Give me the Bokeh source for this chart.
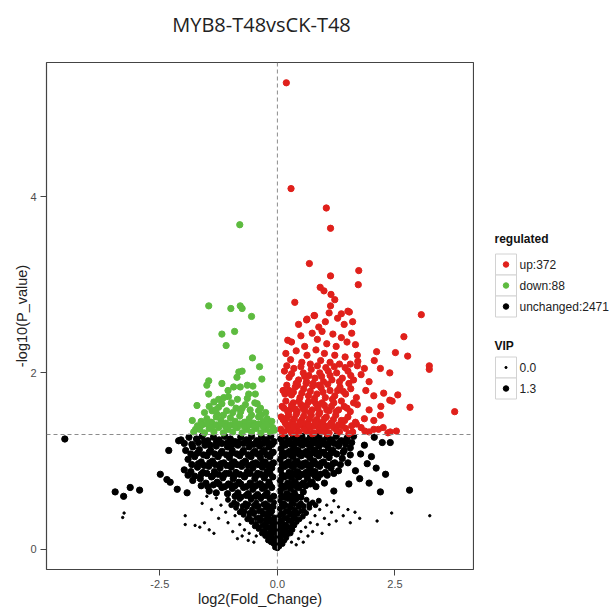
from bokeh.plotting import figure
from bokeh.models import Range1d, FixedTicker, Span
from bokeh.layouts import row, column
from bokeh.embed import file_html
from bokeh.resources import INLINE
from bokeh.core.properties import value

TITLE = "MYB8-T48vsCK-T48"
X_LABEL = "log2(Fold_Change)"
Y_LABEL = "-log10(P_value)"
X_TICKS = [-2.5, 0.0, 2.5]
X_TICK_LABELS = ["-2.5", "0.0", "2.5"]
Y_TICKS = [0, 2, 4]
Y_TICK_LABELS = ["0", "2", "4"]
P_CUTOFF = 1.301   # -log10(0.05)
FC_LINE = 0.0

REG_NAMES = ["up:372", "down:88", "unchanged:2471"]
VIP_NAMES = ["0.0", "1.3"]

# ---- up-regulated (red) ----
up_x = [0.19, 0.29, 1.04, 1.13, 0.68, 1.73, 1.13, 1.72, 0.91, 0.99, 1.14, 1.22, 0.37, 1.13, 3.06,
        1.53, 1.36, 0.79, 0.63, 2.69, 0.22, 3.23, 3.23, 3.77, 2.77, 2.51, 2.11, 2.06, 2.19, 2.39,
        2.56, 2.82, 2.26, 2.39, 2.44, 2.19, 2.53, 1.71, 2.05, 2.25, 2.40,
        0.45, 0.62, 0.78, 0.88, 1.02, 1.10, 1.28, 1.42, 1.50, 1.60,
        0.30, 0.50, 0.58, 0.74, 0.85, 0.95, 1.05, 1.18, 1.25, 1.36, 1.48, 1.58, 1.66,
        0.18, 0.28, 0.40, 0.52, 0.63, 0.70, 0.82, 0.92, 1.00, 1.12, 1.22, 1.32, 1.44, 1.55, 1.70, 1.85,
        0.15, 0.25, 0.35, 0.45, 0.55, 0.62, 0.72, 0.80, 0.90, 0.98, 1.08, 1.16, 1.26, 1.38, 1.50, 1.62, 1.78, 1.95,
        0.12, 0.20, 0.30, 0.38, 0.48, 0.56, 0.66, 0.75, 0.84, 0.93, 1.02, 1.12, 1.22, 1.33, 1.45, 1.56, 1.68, 1.88, 2.05,
        0.10, 0.18, 0.26, 0.34, 0.42, 0.50, 0.58, 0.66, 0.74, 0.82, 0.90, 1.00, 1.10, 1.20, 1.30, 1.42, 1.55, 1.70, 1.95, 2.20,
        0.08, 0.16, 0.24, 0.32, 0.40, 0.48, 0.56, 0.64, 0.72, 0.80, 0.88, 0.96, 1.04, 1.14, 1.24, 1.36, 1.50, 1.66, 1.85, 2.05,
        0.07, 0.14, 0.22, 0.30, 0.38, 0.46, 0.54, 0.62, 0.70, 0.78, 0.86, 0.94, 1.02, 1.10, 1.20, 1.32, 1.45, 1.60, 1.78, 1.95, 2.15, 2.35,
        0.12, 0.20, 0.28, 0.36, 0.44, 0.52, 0.60, 0.68, 0.76, 0.84, 0.92, 1.00, 1.09, 1.19, 1.30, 1.43, 1.58,
        0.14, 0.22, 0.30, 0.38, 0.46, 0.54, 0.62, 0.70, 0.78, 0.86, 0.95, 1.05, 1.15, 1.25, 1.36, 1.48, 1.62,
        0.16, 0.25, 0.34, 0.43, 0.52, 0.61, 0.70, 0.79, 0.88, 0.97, 1.07, 1.17, 1.28, 1.40, 1.52,
        0.20, 0.30, 0.40, 0.50, 0.58, 0.67, 0.76, 0.85, 0.94, 1.03, 1.12, 1.21, 1.32, 1.44, 1.56, 1.70,
        0.11, 0.18, 0.26, 0.34, 0.42, 0.50, 0.58, 0.66, 0.74, 0.82, 0.90, 0.98, 1.06, 1.15, 1.26, 1.38, 1.52, 1.68, 1.86]
up_y = [5.29, 4.09, 3.87, 3.64, 3.24, 3.16, 3.10, 3.00, 2.97, 2.93, 2.89, 2.83, 2.80, 2.76, 2.66,
        2.69, 2.67, 2.65, 2.61, 2.41, 2.37, 2.08, 2.04, 1.56, 2.19, 2.23, 2.24, 2.14, 2.05, 2.00,
        1.75, 1.61, 1.77, 1.69, 1.68, 1.52, 1.34, 2.13, 1.36, 1.38, 1.33,
        2.55, 2.60, 2.65, 2.52, 2.58, 2.68, 2.62, 2.55, 2.70, 2.58,
        2.35, 2.42, 2.30, 2.45, 2.38, 2.47, 2.33, 2.44, 2.30, 2.40, 2.35, 2.45, 2.32,
        2.22, 2.15, 2.25, 2.12, 2.20, 2.10, 2.26, 2.14, 2.22, 2.12, 2.20, 2.10, 2.18, 2.10, 2.20, 2.05,
        2.02, 1.95, 2.05, 1.92, 2.00, 1.90, 2.04, 1.94, 2.00, 1.90, 2.02, 1.92, 2.00, 1.94, 2.02, 1.92, 1.98, 1.90,
        1.80, 1.86, 1.75, 1.84, 1.72, 1.82, 1.74, 1.85, 1.76, 1.83, 1.72, 1.80, 1.74, 1.84, 1.76, 1.82, 1.72, 1.80, 1.74,
        1.62, 1.68, 1.58, 1.66, 1.56, 1.64, 1.57, 1.67, 1.58, 1.65, 1.55, 1.63, 1.57, 1.66, 1.58, 1.62, 1.56, 1.64, 1.58, 1.62,
        1.50, 1.44, 1.52, 1.45, 1.53, 1.44, 1.51, 1.43, 1.52, 1.45, 1.53, 1.44, 1.50, 1.43, 1.52, 1.46, 1.50, 1.44, 1.48, 1.46,
        1.36, 1.33, 1.39, 1.32, 1.38, 1.33, 1.40, 1.34, 1.38, 1.32, 1.39, 1.33, 1.37, 1.32, 1.38, 1.33, 1.37, 1.33, 1.38, 1.33, 1.36, 1.32,
        1.47, 1.49, 1.41, 1.48, 1.40, 1.47, 1.41, 1.48, 1.40, 1.47, 1.41, 1.48, 1.40, 1.47, 1.41, 1.46, 1.40,
        1.60, 1.56, 1.63, 1.59, 1.68, 1.60, 1.63, 1.55, 1.68, 1.60, 1.66, 1.58, 1.62, 1.56, 1.68, 1.60, 1.66,
        1.76, 1.80, 1.78, 1.86, 1.77, 1.88, 1.79, 1.71, 1.86, 1.78, 1.87, 1.70, 1.80, 1.79, 1.88,
        2.08, 1.99, 1.88, 2.07, 1.96, 1.97, 1.88, 2.08, 1.96, 2.06, 1.97, 2.07, 1.90, 2.06, 1.97, 2.08,
        1.31, 1.42, 1.35, 1.41, 1.31, 1.43, 1.36, 1.41, 1.31, 1.43, 1.35, 1.41, 1.31, 1.43, 1.35, 1.40, 1.31, 1.42, 1.34]

# ---- down-regulated (green) ----
down_x = [-0.80, -1.46, -0.99, -0.79, -0.75, -0.55, -1.18, -0.91, -1.09, -0.53, -0.38, -0.82, -0.75, -0.86,
          -0.33, -1.46, -1.50, -1.46, -1.18, -0.93, -0.79, -0.64, -0.61, -0.64, -0.47, -1.14, -1.04, -1.71,
          -1.35, -1.25, -1.39, -1.28, -0.43, -0.40, -1.81, -1.74,
          -1.78, -1.65, -1.55, -1.45, -1.35, -1.25, -1.15, -1.05, -0.95, -0.85, -0.75, -0.65, -0.55, -0.45, -0.35, -0.25, -0.15, -0.06,
          -1.62, -1.50, -1.40, -1.30, -1.20, -1.10, -1.00, -0.90, -0.80, -0.70, -0.60, -0.50, -0.40, -0.30, -0.18,
          -1.45, -1.32, -1.18, -1.08, -0.98, -0.88, -0.78, -0.68, -0.58, -0.48, -0.36, -0.25,
          -1.70, -1.60, -1.50, -1.40, -1.30, -1.20, -1.10, -1.00, -0.90, -0.80, -0.70, -0.60, -0.50, -0.40, -0.30, -0.20, -0.10,
          -1.55, -1.15, -0.95, -0.75, -0.55, -0.35, -0.22, -0.12, -1.25, -0.85, -0.52, -1.05]
down_y = [3.68, 2.76, 2.73, 2.76, 2.73, 2.64, 2.44, 2.47, 2.31, 2.17, 2.07, 2.01, 2.02, 1.95,
          1.93, 1.91, 1.86, 1.76, 1.88, 1.84, 1.84, 1.86, 1.76, 1.71, 1.76, 1.72, 1.73, 1.63,
          1.67, 1.61, 1.57, 1.53, 1.65, 1.57, 1.46, 1.36,
          1.33, 1.36, 1.32, 1.37, 1.33, 1.38, 1.32, 1.36, 1.33, 1.38, 1.32, 1.36, 1.33, 1.37, 1.32, 1.36, 1.33, 1.35,
          1.45, 1.48, 1.44, 1.50, 1.46, 1.43, 1.49, 1.45, 1.51, 1.44, 1.48, 1.43, 1.50, 1.45, 1.42,
          1.62, 1.58, 1.65, 1.57, 1.66, 1.60, 1.56, 1.64, 1.58, 1.66, 1.60, 1.55,
          1.40, 1.41, 1.42, 1.38, 1.41, 1.42, 1.39, 1.41, 1.40, 1.42, 1.39, 1.41, 1.40, 1.42, 1.39, 1.41, 1.38,
          1.55, 1.52, 1.55, 1.60, 1.52, 1.52, 1.48, 1.45, 1.70, 1.70, 1.85, 1.80]

# ---- unchanged, high VIP (large black) ----
hi_x = [-2.05, -1.88, -1.72, -1.60, -1.48, -1.36, -1.24, -1.12, -1.00, -0.90, -0.78, -0.66, -0.55, -0.44, -0.34, -0.24, -0.14, -0.07,
        -1.95, -1.80, -1.66, -1.54, -1.42, -1.30, -1.18, -1.06, -0.96, -0.84, -0.72, -0.60, -0.48, -0.38, -0.28, -0.18, -0.09,
        -1.90, -1.76, -1.62, -1.50, -1.38, -1.26, -1.14, -1.02, -0.92, -0.80, -0.68, -0.56, -0.46, -0.36, -0.26, -0.16, -0.08,
        -1.98, -1.84, -1.70, -1.58, -1.46, -1.34, -1.22, -1.10, -0.98, -0.88, -0.76, -0.64, -0.52, -0.42, -0.32, -0.22, -0.12,
        -1.80, -1.64, -1.52, -1.40, -1.28, -1.16, -1.04, -0.94, -0.82, -0.70, -0.58, -0.48, -0.38, -0.28, -0.18, -0.10,
        -1.45, -1.30, -1.18, -1.06, -0.96, -0.84, -0.72, -0.62, -0.52, -0.42, -0.32, -0.22, -0.12,
        -2.10, -2.31, -2.49, -2.35, -2.28, -3.45, -3.27, -3.13, -2.93, -2.13, -1.92, -4.52,
        -1.98, -1.82, -1.68, -1.55, -1.43, -1.30, -1.18, -1.06, -0.95, -0.84, -0.72, -0.61, -0.50, -0.40, -0.30, -0.20, -0.11,
        -1.84, -1.70, -1.57, -1.45, -1.33, -1.20, -1.08, -0.97, -0.86, -0.74, -0.62, -0.52, -0.42, -0.32, -0.22, -0.12,
        -1.82, -1.68, -1.56, -1.44, -1.32, -1.20, -1.08, -0.97, -0.86, -0.74, -0.62, -0.52, -0.41, -0.31, -0.20, -0.11,
        -1.90, -1.76, -1.62, -1.50, -1.38, -1.26, -1.14, -1.02, -0.92, -0.80, -0.68, -0.58, -0.46, -0.36, -0.26, -0.16,
        -1.62, -1.48, -1.36, -1.24, -1.12, -1.00, -0.90, -0.78, -0.66, -0.56, -0.46, -0.36, -0.26, -0.16,
        -0.90, -0.78, -0.66, -0.56, -0.46, -0.36, -0.26, -0.16, -0.08,
        0.07, 0.16, 0.25, 0.34, 0.43, 0.52, 0.61, 0.70, 0.79, 0.88, 0.97, 1.06, 1.15, 1.25, 1.36, 1.48, 1.62,
        0.08, 0.17, 0.26, 0.35, 0.44, 0.53, 0.62, 0.71, 0.80, 0.89, 0.98, 1.08, 1.18, 1.30, 1.42,
        0.06, 0.15, 0.24, 0.33, 0.42, 0.51, 0.60, 0.69, 0.78, 0.88, 0.98, 1.10, 1.22, 1.38,
        0.07, 0.16, 0.25, 0.34, 0.43, 0.52, 0.61, 0.70, 0.80, 0.90, 1.02, 1.14, 1.30,
        0.06, 0.14, 0.22, 0.30, 0.38, 0.46, 0.55, 0.64, 0.74, 0.86, 1.00,
        0.06, 0.13, 0.20, 0.28, 0.36, 0.45, 0.55,
        1.45, 1.55, 1.77, 1.91, 1.66, 1.52, 1.20, 2.40, 2.23, 2.06, 2.30, 2.81, 2.19, 1.85, 2.00, 2.10, 1.75, 1.95,
        0.11, 0.20, 0.29, 0.38, 0.47, 0.56, 0.65, 0.74, 0.83, 0.92, 1.01, 1.11, 1.21, 1.32, 1.45, 1.58,
        0.10, 0.19, 0.28, 0.37, 0.46, 0.55, 0.64, 0.73, 0.83, 0.93, 1.03, 1.14, 1.26, 1.40, 1.55,
        0.10, 0.19, 0.28, 0.37, 0.46, 0.55, 0.64, 0.74, 0.84, 0.94, 1.06, 1.18, 1.34, 1.50,
        0.10, 0.18, 0.26, 0.34, 0.43, 0.52, 0.61, 0.70, 0.80, 0.92, 1.06, 1.20,
        0.09, 0.17, 0.25, 0.33, 0.41, 0.50, 0.60, 0.70, 0.82,
        0.09, 0.16, 0.24, 0.32, 0.40, 0.50]
hi_y = [1.24, 1.27, 1.25, 1.28, 1.23, 1.27, 1.24, 1.28, 1.25, 1.22, 1.27, 1.24, 1.28, 1.23, 1.27, 1.24, 1.28, 1.22,
        1.12, 1.16, 1.13, 1.18, 1.12, 1.17, 1.11, 1.16, 1.12, 1.18, 1.12, 1.16, 1.11, 1.17, 1.12, 1.16, 1.10,
        1.02, 1.05, 0.99, 1.06, 1.00, 1.05, 0.98, 1.04, 0.99, 1.06, 1.00, 1.05, 0.98, 1.04, 0.99, 1.05, 0.98,
        0.90, 0.88, 0.93, 0.87, 0.94, 0.88, 0.92, 0.86, 0.93, 0.87, 0.94, 0.88, 0.92, 0.86, 0.93, 0.88, 0.92,
        0.78, 0.80, 0.75, 0.82, 0.76, 0.81, 0.74, 0.80, 0.76, 0.82, 0.75, 0.80, 0.74, 0.81, 0.76, 0.82,
        0.66, 0.64, 0.70, 0.63, 0.69, 0.64, 0.70, 0.63, 0.68, 0.62, 0.69, 0.64, 0.70,
        1.23, 1.12, 0.85, 0.79, 0.76, 0.65, 0.60, 0.70, 0.67, 0.68, 0.64, 1.25,
        1.20, 1.19, 1.21, 1.22, 1.18, 1.21, 1.20, 1.21, 1.19, 1.21, 1.20, 1.22, 1.19, 1.21, 1.20, 1.21, 1.19,
        1.08, 1.09, 1.07, 1.10, 1.08, 1.09, 1.07, 1.09, 1.08, 1.10, 1.07, 1.09, 1.08, 1.10, 1.07, 1.09,
        0.96, 0.97, 0.95, 0.98, 0.96, 0.97, 0.95, 0.97, 0.96, 0.98, 0.95, 0.97, 0.96, 0.98, 0.95, 0.97,
        0.84, 0.83, 0.85, 0.86, 0.83, 0.85, 0.84, 0.86, 0.83, 0.85, 0.84, 0.86, 0.83, 0.85, 0.84, 0.86,
        0.72, 0.71, 0.73, 0.74, 0.71, 0.73, 0.72, 0.74, 0.71, 0.73, 0.72, 0.74, 0.71, 0.73,
        0.60, 0.59, 0.61, 0.58, 0.60, 0.59, 0.61, 0.58, 0.60,
        1.25, 1.28, 1.23, 1.27, 1.24, 1.28, 1.23, 1.27, 1.24, 1.28, 1.23, 1.27, 1.24, 1.28, 1.23, 1.26, 1.28,
        1.14, 1.18, 1.11, 1.16, 1.12, 1.18, 1.11, 1.16, 1.12, 1.17, 1.10, 1.15, 1.12, 1.17, 1.12,
        1.02, 1.06, 0.99, 1.05, 1.00, 1.06, 0.98, 1.04, 1.00, 1.06, 0.99, 1.04, 0.98, 1.03,
        0.90, 0.94, 0.87, 0.93, 0.88, 0.94, 0.87, 0.92, 0.88, 0.94, 0.87, 0.92, 0.89,
        0.78, 0.82, 0.75, 0.81, 0.76, 0.82, 0.75, 0.80, 0.76, 0.81, 0.75,
        0.66, 0.70, 0.63, 0.69, 0.64, 0.70, 0.65,
        1.23, 1.15, 1.08, 0.97, 0.89, 0.74, 0.66, 1.21, 1.21, 1.27, 0.85, 0.67, 0.65, 1.18, 1.05, 0.92, 0.80, 0.75,
        1.20, 1.21, 1.19, 1.21, 1.20, 1.22, 1.19, 1.21, 1.20, 1.22, 1.19, 1.21, 1.20, 1.21, 1.19, 1.21,
        1.08, 1.09, 1.07, 1.10, 1.08, 1.09, 1.07, 1.09, 1.08, 1.10, 1.07, 1.09, 1.08, 1.10, 1.07,
        0.96, 0.97, 0.95, 0.98, 0.96, 0.97, 0.95, 0.97, 0.96, 0.98, 0.95, 0.97, 0.96, 0.98,
        0.84, 0.83, 0.85, 0.86, 0.83, 0.85, 0.84, 0.86, 0.83, 0.85, 0.84, 0.86,
        0.72, 0.71, 0.73, 0.74, 0.71, 0.73, 0.72, 0.74, 0.71,
        0.60, 0.59, 0.61, 0.58, 0.60, 0.59]

# ---- unchanged, medium VIP (V-shaped core) ----
mid_x = [-1.05, -0.92, -0.80, -0.68, -0.56, -0.45, -0.35, -0.25, -0.15, -0.07, 0.06, 0.14, 0.22, 0.30, 0.40, 0.50, 0.62, 0.75, 0.88,
         -0.88, -0.76, -0.65, -0.54, -0.44, -0.34, -0.25, -0.16, -0.08, 0.05, 0.12, 0.20, 0.28, 0.37, 0.46, 0.56, 0.68,
         -0.72, -0.60, -0.50, -0.40, -0.31, -0.22, -0.14, -0.06, 0.04, 0.11, 0.18, 0.26, 0.34, 0.43, 0.54,
         -0.55, -0.45, -0.36, -0.27, -0.19, -0.11, -0.04, 0.03, 0.10, 0.17, 0.24, 0.32, 0.41,
         -0.40, -0.31, -0.23, -0.15, -0.08, -0.02, 0.04, 0.10, 0.17, 0.25, 0.32,
         -0.26, -0.18, -0.11, -0.05, 0.01, 0.06, 0.12, 0.19,
         -0.14, -0.08, -0.03, 0.02, 0.07, 0.11,
         -0.05, 0.00, 0.04,
         -0.98, -0.86, -0.74, -0.62, -0.50, -0.40, -0.30, -0.20, -0.11, 0.09, 0.18, 0.26, 0.35, 0.45, 0.56, 0.68, 0.81,
         -0.80, -0.70, -0.60, -0.49, -0.39, -0.30, -0.20, -0.11, 0.08, 0.16, 0.24, 0.32, 0.41, 0.51, 0.61,
         -0.64, -0.55, -0.45, -0.35, -0.26, -0.18, -0.10, 0.07, 0.14, 0.22, 0.30, 0.38, 0.47,
         -0.48, -0.40, -0.32, -0.23, -0.15, -0.07, 0.00, 0.07, 0.14, 0.21, 0.28, 0.36,
         -0.33, -0.26, -0.19, -0.12, -0.05, 0.03, 0.09, 0.15, 0.22, 0.28,
         -0.20, -0.13, -0.07, 0.00, 0.05, 0.10, 0.15]
mid_y = [0.56, 0.53, 0.57, 0.52, 0.56, 0.53, 0.57, 0.52, 0.56, 0.53, 0.55, 0.52, 0.57, 0.53, 0.56, 0.52, 0.56, 0.53, 0.55,
         0.47, 0.44, 0.48, 0.45, 0.48, 0.44, 0.47, 0.45, 0.48, 0.46, 0.48, 0.44, 0.47, 0.45, 0.48, 0.44, 0.47,
         0.39, 0.37, 0.40, 0.36, 0.39, 0.37, 0.40, 0.36, 0.38, 0.40, 0.36, 0.39, 0.37, 0.40, 0.37,
         0.31, 0.29, 0.32, 0.28, 0.31, 0.29, 0.32, 0.29, 0.31, 0.28, 0.32, 0.29, 0.31,
         0.23, 0.21, 0.24, 0.20, 0.23, 0.21, 0.24, 0.21, 0.23, 0.20, 0.22,
         0.15, 0.13, 0.16, 0.12, 0.15, 0.13, 0.16, 0.13,
         0.08, 0.06, 0.09, 0.05, 0.08, 0.06,
         0.02, 0.01, 0.03,
         0.50, 0.51, 0.49, 0.51, 0.50, 0.49, 0.51, 0.50, 0.49, 0.51, 0.50, 0.49, 0.51, 0.50, 0.49, 0.51, 0.50,
         0.42, 0.43, 0.41, 0.42, 0.43, 0.41, 0.42, 0.43, 0.41, 0.42, 0.43, 0.41, 0.42, 0.43, 0.41,
         0.34, 0.33, 0.35, 0.34, 0.33, 0.35, 0.34, 0.33, 0.35, 0.34, 0.33, 0.35, 0.34,
         0.26, 0.25, 0.27, 0.26, 0.25, 0.27, 0.26, 0.25, 0.27, 0.26, 0.25, 0.27,
         0.18, 0.19, 0.17, 0.18, 0.19, 0.17, 0.18, 0.19, 0.17, 0.18,
         0.10, 0.11, 0.09, 0.10, 0.11, 0.09, 0.10]

# ---- unchanged, low VIP (small black) ----
lo_x = [-3.29, -3.26, -1.96, -1.96, -1.75, -1.65, -1.55, -1.45, -1.35, -1.25, -1.40, -1.20, -1.10, -1.05, -0.95,
        -0.90, -0.85, -0.80, -0.75, -0.70, -0.62, -0.60, -0.50, -0.45, -1.60, -1.50, -1.30,
        0.45, 0.50, 0.55, 0.60, 0.65, 0.70, 0.75, 0.80, 0.85, 0.90, 0.95, 1.00, 1.05, 1.10, 1.15, 1.20,
        1.25, 1.30, 1.40, 1.50, 1.55, 1.65, 1.75, 2.43, 2.12, 3.24, 0.40, 0.30]
lo_y = [0.36, 0.41, 0.38, 0.28, 0.27, 0.25, 0.30, 0.22, 0.18, 0.35, 0.45, 0.50, 0.42, 0.30, 0.20,
        0.38, 0.12, 0.28, 0.15, 0.22, 0.10, 0.18, 0.08, 0.15, 0.52, 0.60, 0.58,
        0.12, 0.20, 0.08, 0.25, 0.15, 0.30, 0.20, 0.38, 0.28, 0.45, 0.18, 0.35, 0.50, 0.28, 0.42, 0.55,
        0.32, 0.48, 0.38, 0.45, 0.30, 0.42, 0.35, 0.41, 0.32, 0.38, 0.05, 0.08]

RED = "#E0201B"
GREEN = "#5DBB3F"
BLACK = "#000000"
FONT = "Liberation Sans"

TOP_H = 60  # height of the title strip (page px)

# ---- title strip ----
head = figure(width=474, height=TOP_H, output_backend="svg", toolbar_location=None,
              x_range=Range1d(46, 473), y_range=Range1d(TOP_H, 0),
              x_axis_type=None, y_axis_type=None, title_location=None,
              min_border_left=46, min_border_right=1, min_border_top=0, min_border_bottom=0,
              background_fill_color="white", border_fill_color="white")
head.grid.visible = False
head.outline_line_color = None
head.text(x=[261], y=[24], text=[TITLE], text_font=value("Open Sans"), text_font_size="20px",
          text_align="center", text_baseline="middle", text_color="#222222")

# ---- main plot ----
p = figure(width=474, height=610 - TOP_H, output_backend="svg", toolbar_location=None,
           x_range=Range1d(-4.91, 4.17), y_range=Range1d(-0.23, 5.52),
           min_border_left=46, min_border_right=1, min_border_top=62 - TOP_H, min_border_bottom=41,
           title_location=None,
           background_fill_color="white", border_fill_color="white")

p.scatter(lo_x, lo_y, size=2.4, color=BLACK)
p.scatter(mid_x, mid_y, size=5, color=BLACK)
p.scatter(hi_x, hi_y, size=6.3, color=BLACK)
p.scatter(down_x, down_y, size=6.3, color=GREEN)
p.scatter(up_x, up_y, size=6.3, color=RED)

p.add_layout(Span(location=P_CUTOFF, dimension="width", line_color="#8c8c8c",
                  line_dash="4 3", line_width=1))
p.add_layout(Span(location=FC_LINE, dimension="height", line_color="#8c8c8c",
                  line_dash="4 3", line_width=1))

p.grid.visible = False
p.outline_line_color = "#444444"
p.outline_line_width = 1.2

for ax in (p.xaxis[0], p.yaxis[0]):
    ax.axis_line_color = None
    ax.major_tick_line_color = "#444444"
    ax.major_tick_out = 6
    ax.major_tick_in = 0
    ax.minor_tick_line_color = None
    ax.major_label_text_font = FONT
    ax.major_label_text_font_size = "11px"
    ax.major_label_text_color = "#4d4d4d"
    ax.major_label_standoff = 4
    ax.axis_label_text_font = FONT
    ax.axis_label_text_font_size = "14.5px"
    ax.axis_label_text_font_style = "normal"
    ax.axis_label_text_color = "#222222"
    ax.axis_label_standoff = 0

p.yaxis.axis_label_standoff = -3
p.xaxis.ticker = FixedTicker(ticks=X_TICKS)
p.xaxis.major_label_overrides = dict(zip(X_TICKS, X_TICK_LABELS))
p.xaxis.axis_label = X_LABEL
p.yaxis.ticker = FixedTicker(ticks=Y_TICKS)
p.yaxis.major_label_overrides = dict(zip(Y_TICKS, Y_TICK_LABELS))
p.yaxis.axis_label = Y_LABEL

# ---- legend panel (frame aligned with main frame: page 62..569 px) ----
leg = figure(width=138, height=610 - TOP_H, output_backend="svg", toolbar_location=None,
             x_range=Range1d(474, 612), y_range=Range1d(569, 62),
             x_axis_type=None, y_axis_type=None,
             min_border_left=0, min_border_right=0, min_border_top=62 - TOP_H, min_border_bottom=41,
             title_location=None,
             background_fill_color="white", border_fill_color="white")
leg.grid.visible = False
leg.outline_line_color = None

BOX_X = 505.5
reg_y = [264, 285, 306]
vip_y = [367, 388]
leg.text(x=[494, 494], y=[238, 345], text=["regulated", "VIP"], text_font=value(FONT),
         text_font_size="12px", text_font_style="bold", text_baseline="middle", text_color="#111111")
leg.rect(x=[BOX_X] * 5, y=reg_y + vip_y, width=21, height=21, fill_color="white",
         line_color="#d2d2d2", line_width=1)
leg.scatter(x=[BOX_X] * 3, y=reg_y, size=5.5, color=[RED, GREEN, BLACK])
leg.scatter(x=[BOX_X] * 2, y=vip_y, size=[2.2, 5.5], color=BLACK)
leg.text(x=[519] * 5, y=reg_y + vip_y, text=REG_NAMES + VIP_NAMES, text_font=value(FONT),
         text_font_size="12px", text_baseline="middle", text_color="#222222")

layout = column(head, row(p, leg, spacing=0), spacing=0)
open("out.html", "w").write(file_html(layout, INLINE))
